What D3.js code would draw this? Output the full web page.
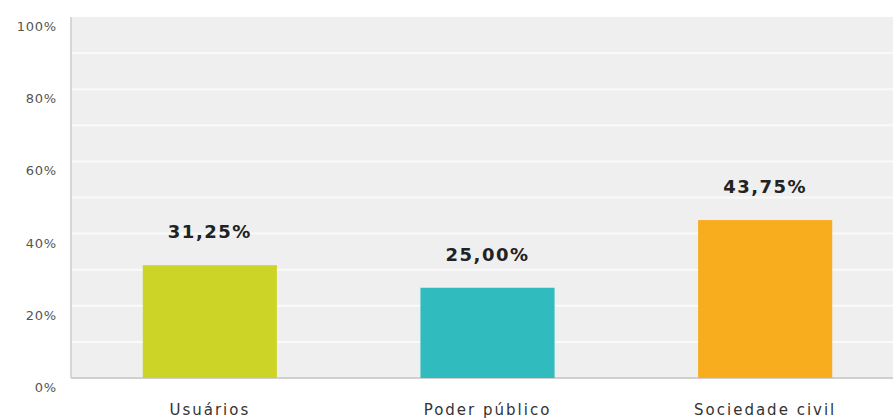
<!DOCTYPE html>
<html>
<head>
<meta charset="utf-8">
<script src="https://cdn.jsdelivr.net/npm/d3@7"></script>
<style>
  body { margin: 0; background: #fff; }
  svg { display: block; font-family: "DejaVu Sans", Verdana, sans-serif; }
</style>
</head>
<body>
<svg id="chart"></svg>
<script>
// Chart values
const categories = ["Usuários", "Poder público", "Sociedade civil"];
const values = [31.25, 25.00, 43.75];
const valueLabels = ["31,25%", "25,00%", "43,75%"];
const colors = ["#cdd428", "#30bbbe", "#f8ad1e"];
const yTicks = [0, 20, 40, 60, 80, 100];
const gridTicks = [10, 20, 30, 40, 50, 60, 70, 80, 90];

(function () {

const W = 893, H = 418;
const plot = {left: 71, right: 904, top: 17, bottom: 378};

const svg = d3.select("#chart")
    .attr("width", W)
    .attr("height", H);

const x = d3.scaleBand()
    .domain(categories)
    .range([plot.left, plot.right])
    .paddingInner(0.517)
    .paddingOuter(0.2585);

const y = d3.scaleLinear()
    .domain([0, 100])
    .range([plot.bottom, plot.top]);

// Plot background
svg.append("rect")
    .attr("x", plot.left)
    .attr("y", plot.top)
    .attr("width", plot.right - plot.left)
    .attr("height", plot.bottom - plot.top)
    .attr("fill", "#efefef");

// White grid lines
svg.append("g")
    .selectAll("line")
    .data(gridTicks)
    .enter().append("line")
        .attr("x1", plot.left)
        .attr("x2", plot.right)
        .attr("y1", d => y(d))
        .attr("y2", d => y(d))
        .attr("stroke", "#fafafa")
        .attr("stroke-width", 2);

// Axis lines
svg.append("line")
    .attr("x1", plot.left).attr("x2", plot.left)
    .attr("y1", plot.top).attr("y2", plot.bottom)
    .attr("stroke", "#d6d6d6").attr("stroke-width", 2);
svg.append("line")
    .attr("x1", plot.left).attr("x2", plot.right)
    .attr("y1", plot.bottom).attr("y2", plot.bottom)
    .attr("stroke", "#d0d0d0").attr("stroke-width", 2);

// Y tick labels (sit a little below their value)
svg.append("g")
    .selectAll("text")
    .data(yTicks)
    .enter().append("text")
        .attr("x", 57)
        .attr("y", d => y(d) + 14)
        .attr("text-anchor", "end")
        .style("font-size", "13px")
        .style("letter-spacing", "0.8px")
        .attr("fill", "#555")
        .text(d => d + "%");

// Bars
svg.append("g")
    .selectAll("rect")
    .data(values)
    .enter().append("rect")
        .attr("x", (d, i) => x(categories[i]))
        .attr("y", d => y(d))
        .attr("width", x.bandwidth())
        .attr("height", d => y(0) - y(d))
        .attr("fill", (d, i) => colors[i]);

// Value labels
svg.append("g")
    .selectAll("text")
    .data(values)
    .enter().append("text")
        .attr("x", (d, i) => x(categories[i]) + x.bandwidth() / 2)
        .attr("y", d => y(d) - 27)
        .attr("text-anchor", "middle")
        .style("font-size", "18px")
        .style("font-weight", "bold")
        .style("letter-spacing", "1.5px")
        .attr("fill", "#222")
        .text((d, i) => valueLabels[i]);

// Category labels
svg.append("g")
    .selectAll("text")
    .data(categories)
    .enter().append("text")
        .attr("x", d => x(d) + x.bandwidth() / 2)
        .attr("y", 415)
        .attr("text-anchor", "middle")
        .style("font-size", "15px")
        .style("letter-spacing", "2px")
        .attr("fill", "#333")
        .text(d => d);

})();
</script>
</body>
</html>
